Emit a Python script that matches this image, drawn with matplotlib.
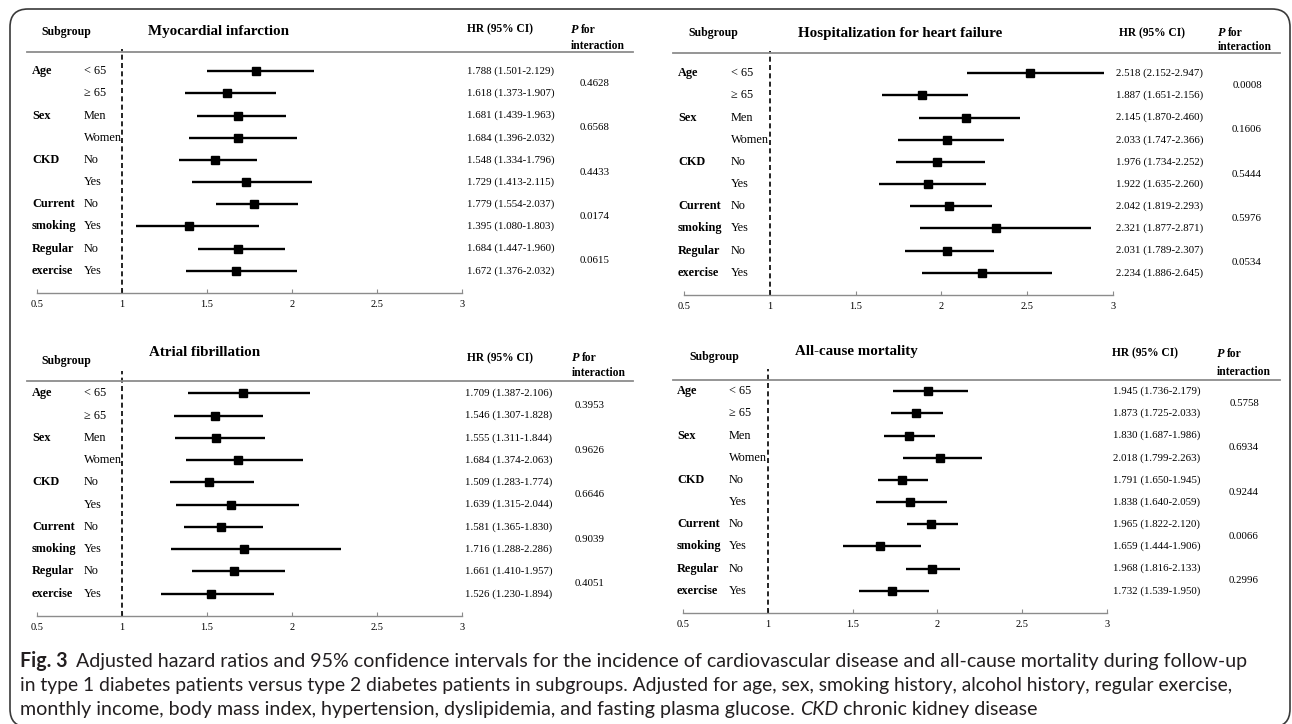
import matplotlib
matplotlib.use('Agg')
import matplotlib.pyplot as plt
from matplotlib import transforms
from matplotlib.patches import FancyBboxPatch
from matplotlib.lines import Line2D

# ---------------- data ----------------
levels = ['< 65', '≥ 65', 'Men', 'Women', 'No', 'Yes', 'No', 'Yes', 'No', 'Yes']
cats = ['Age', '', 'Sex', '', 'CKD', '', 'Current', 'smoking', 'Regular', 'exercise']
ticks = [0.5, 1, 1.5, 2, 2.5, 3]
tick_labels = ['0.5', '1', '1.5', '2', '2.5', '3']

mi_hr = [1.788, 1.618, 1.681, 1.684, 1.548, 1.729, 1.779, 1.395, 1.684, 1.672]
mi_lo = [1.501, 1.373, 1.439, 1.396, 1.334, 1.413, 1.554, 1.080, 1.447, 1.376]
mi_hi = [2.129, 1.907, 1.963, 2.032, 1.796, 2.115, 2.037, 1.803, 1.960, 2.032]
mi_p = ['0.4628', '0.6568', '0.4433', '0.0174', '0.0615']

hf_hr = [2.518, 1.887, 2.145, 2.033, 1.976, 1.922, 2.042, 2.321, 2.031, 2.234]
hf_lo = [2.152, 1.651, 1.870, 1.747, 1.734, 1.635, 1.819, 1.877, 1.789, 1.886]
hf_hi = [2.947, 2.156, 2.460, 2.366, 2.252, 2.260, 2.293, 2.871, 2.307, 2.645]
hf_p = ['0.0008', '0.1606', '0.5444', '0.5976', '0.0534']

af_hr = [1.709, 1.546, 1.555, 1.684, 1.509, 1.639, 1.581, 1.716, 1.661, 1.526]
af_lo = [1.387, 1.307, 1.311, 1.374, 1.283, 1.315, 1.365, 1.288, 1.410, 1.230]
af_hi = [2.106, 1.828, 1.844, 2.063, 1.774, 2.044, 1.830, 2.286, 1.957, 1.894]
af_p = ['0.3953', '0.9626', '0.6646', '0.9039', '0.4051']

ac_hr = [1.945, 1.873, 1.830, 2.018, 1.791, 1.838, 1.965, 1.659, 1.968, 1.732]
ac_lo = [1.736, 1.725, 1.687, 1.799, 1.650, 1.640, 1.822, 1.444, 1.816, 1.539]
ac_hi = [2.179, 2.033, 1.986, 2.263, 1.945, 2.059, 2.120, 1.906, 2.133, 1.950]
ac_p = ['0.5758', '0.6934', '0.9244', '0.0066', '0.2996']

titles = ['Myocardial infarction', 'Hospitalization for heart failure',
          'Atrial fibrillation', 'All-cause mortality']

# ---------------- layout ----------------
W, H = 1292, 724
fig = plt.figure(figsize=(W / 100, H / 100), dpi=100)
SERIF = 'Liberation Serif'
SANS = 'Lato'


def fx(p):
    return p / W


def fy(p):
    return 1 - p / H


panels = [
    dict(data=(mi_hr, mi_lo, mi_hi, mi_p), title=titles[0],
         x0=37, x1=462, ytop=49, ybot=293, hl_y=52, hl_x=(27, 633),
         title_xy=(219, 32), sub_xy=(41, 32), hrh_xy=(467, 29), ph_xy=(571, 30, 46),
         hrx=467, px=595, catx=32, levx=84),
    dict(data=(hf_hr, hf_lo, hf_hi, hf_p), title=titles[1],
         x0=684, x1=1113, ytop=51, ybot=295, hl_y=53, hl_x=(673, 1280),
         title_xy=(900, 34), sub_xy=(688, 33), hrh_xy=(1119, 33), ph_xy=(1218, 33, 47),
         hrx=1116, px=1247, catx=678, levx=731),
    dict(data=(af_hr, af_lo, af_hi, af_p), title=titles[2],
         x0=37, x1=462, ytop=371, ybot=616, hl_y=381, hl_x=(27, 633),
         title_xy=(205, 353), sub_xy=(41, 361), hrh_xy=(467, 358), ph_xy=(572, 358, 373),
         hrx=465, px=590, catx=32, levx=84),
    dict(data=(ac_hr, ac_lo, ac_hi, ac_p), title=titles[3],
         x0=683, x1=1107, ytop=369, ybot=613, hl_y=380, hl_x=(673, 1280),
         title_xy=(856, 352), sub_xy=(689, 357), hrh_xy=(1112, 353), ph_xy=(1217, 354, 372),
         hrx=1113, px=1244, catx=677, levx=729),
]

FS = 8.8
HFS = 8.3
for P in panels:
    hr, lo, hi, pv = P['data']
    ax = fig.add_axes([fx(P['x0']), fy(P['ybot']),
                       fx(P['x1']) - fx(P['x0']), (P['ybot'] - P['ytop']) / H])
    ax.set_xlim(ticks[0], ticks[-1])
    ax.set_ylim(10, -1)
    ax.patch.set_alpha(0)
    for s in ['left', 'top', 'right']:
        ax.spines[s].set_visible(False)
    ax.spines['bottom'].set_color('#8c8c8c')
    ax.spines['bottom'].set_linewidth(1.0)
    ax.set_yticks([])
    ax.set_xticks(ticks)
    ax.set_xticklabels(tick_labels, fontfamily=SERIF, fontsize=7.5)
    ax.tick_params(axis='x', direction='in', length=3, color='#8c8c8c', pad=5)
    rows = list(range(len(hr)))
    ax.axvline(1, color='black', lw=1.2, ls=(0, (3, 2)))
    ax.hlines(rows, lo, hi, color='black', lw=1.7)
    ax.plot(hr, rows, 's', color='black', ms=5.5)

    tr = transforms.blended_transform_factory(fig.transFigure, ax.transData)
    for i, r in enumerate(rows):
        if cats[i]:
            fig.text(fx(P['catx']), r, cats[i], transform=tr, fontfamily=SERIF,
                     fontweight='bold', fontsize=FS, va='center', ha='left')
        fig.text(fx(P['levx']), r, levels[i], transform=tr, fontfamily=SERIF,
                 fontsize=FS, va='center', ha='left')
        fig.text(fx(P['hrx']), r, f"{hr[i]:.3f} ({lo[i]:.3f}-{hi[i]:.3f})",
                 transform=tr, fontfamily=SERIF, fontsize=7.8, va='center', ha='left')
    for k, p in enumerate(pv):
        fig.text(fx(P['px']), 2 * k + 0.55, p, transform=tr, fontfamily=SERIF,
                 fontsize=7.8, va='center', ha='center')

    # header texts
    fig.text(fx(P['title_xy'][0]), fy(P['title_xy'][1]), P['title'], fontfamily=SERIF,
             fontweight='bold', fontsize=10.8, ha='center', va='center')
    fig.text(fx(P['sub_xy'][0]), fy(P['sub_xy'][1]), 'Subgroup', fontfamily=SERIF,
             fontweight='bold', fontsize=8.5, ha='left', va='center')
    fig.text(fx(P['hrh_xy'][0]), fy(P['hrh_xy'][1]), 'HR (95% CI)', fontfamily=SERIF,
             fontweight='bold', fontsize=HFS, ha='left', va='center')
    phx, phy1, phy2 = P['ph_xy']
    fig.text(fx(phx), fy(phy1), 'P', fontfamily=SERIF, fontweight='bold',
             fontstyle='italic', fontsize=HFS + 0.5, ha='left', va='center')
    fig.text(fx(phx + 10), fy(phy1), 'for', fontfamily=SERIF, fontweight='bold',
             fontsize=HFS, ha='left', va='center')
    fig.text(fx(phx), fy(phy2), 'interaction', fontfamily=SERIF, fontweight='bold',
             fontsize=HFS, ha='left', va='center')
    fig.add_artist(Line2D([fx(P['hl_x'][0]), fx(P['hl_x'][1])], [fy(P['hl_y'])] * 2,
                          transform=fig.transFigure, color='#8c8c8c', lw=1.3))

# ---------------- border ----------------
border = FancyBboxPatch((10 / 100, (H - 727) / 100), (1290 - 10) / 100, (727 - 9) / 100,
                        boxstyle='round,pad=0,rounding_size=0.18',
                        transform=fig.dpi_scale_trans, fill=False,
                        edgecolor='#3a3a3a', lw=1.2)
fig.add_artist(border)

# ---------------- caption ----------------
cap_col = '#231f20'
line1a = 'Fig. 3'
line1b = ('Adjusted hazard ratios and 95% confidence intervals for the incidence of '
          'cardiovascular disease and all-cause mortality during follow-up')
line2 = ('in type 1 diabetes patients versus type 2 diabetes patients in subgroups. '
         'Adjusted for age, sex, smoking history, alcohol history, regular exercise,')
line3a = ('monthly income, body mass index, hypertension, dyslipidemia, '
          'and fasting plasma glucose. ')
line3b = 'CKD'
line3c = ' chronic kidney disease'

r = fig.canvas.get_renderer()
X0 = 20


def put_line(parts, ybase, x_end):
    """parts: list of (text, weight, style, gap_before_px)"""
    objs = []
    for txt, wt, st, gap in parts:
        objs.append((fig.text(0, fy(ybase), txt, fontfamily=SANS, fontweight=wt,
                              fontstyle=st, fontsize=12, color=cap_col,
                              va='baseline', ha='left'), gap))
    total = sum(o.get_window_extent(renderer=r).width + g for o, g in objs)
    gaps = sum(g for _, g in objs)
    scale = (x_end - X0 - gaps) / (total - gaps)
    x = X0
    for o, g in objs:
        o.set_fontsize(12 * scale)
        x += g
        o.set_x(fx(x))
        x += o.get_window_extent(renderer=r).width


put_line([(line1a, 'bold', 'normal', 0), (line1b, 'normal', 'normal', 9)], 667, 1240)
put_line([(line2, 'normal', 'normal', 0)], 691, 1228)
put_line([(line3a, 'normal', 'normal', 0), (line3b, 'normal', 'italic', 0),
          (line3c, 'normal', 'normal', 0)], 715, 1037)

fig.savefig('out.png', dpi=100)
